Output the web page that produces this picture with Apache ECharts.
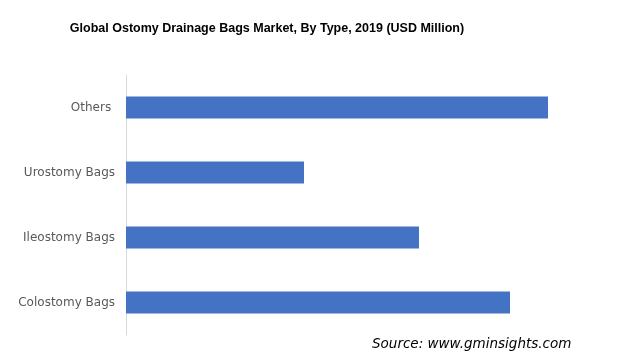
<!DOCTYPE html>
<html><head><meta charset="utf-8">
<script src="https://cdn.jsdelivr.net/npm/echarts@6/dist/echarts.min.js"></script>
<style>html,body{margin:0;padding:0;background:#fff}#c{width:624px;height:356px}</style>
</head><body><div id="c"></div>
<script>
const titleText = 'Global Ostomy Drainage Bags Market, By Type, 2019 (USD Million)';
const sourceText = 'Source: www.gminsights.com';
const categories = ['Colostomy Bags', 'Ileostomy Bags', 'Urostomy Bags', 'Others '];
const values = [384, 293, 178, 422];

const chart = echarts.init(document.getElementById('c'), null, {renderer: 'canvas'});
chart.setOption({
  animation: false,
  backgroundColor: '#fff',
  title: {
    text: titleText, left: 262, top: 17, textAlign: 'center',
    textStyle: {fontFamily: 'Liberation Sans', fontSize: 12.5, fontWeight: 'bold', color: '#000'}
  },
  grid: {left: 126, right: 48, top: 75, bottom: 21, containLabel: false},
  xAxis: {type: 'value', min: 0, max: 450, show: false},
  yAxis: {
    type: 'category', data: categories,
    axisLine: {show: true, lineStyle: {color: '#d9d9d9', width: 1}},
    axisTick: {show: false},
    axisLabel: {fontFamily: 'DejaVu Sans', fontSize: 12, color: '#595959', margin: 11}
  },
  series: [{
    type: 'bar', data: values, barWidth: 22,
    itemStyle: {color: '#4472c4'}
  }],
  graphic: [{
    type: 'text', left: 372, top: 337,
    style: {text: sourceText, font: 'italic 13.5px "DejaVu Sans"', fill: '#000'}
  }]
});
</script></body></html>
